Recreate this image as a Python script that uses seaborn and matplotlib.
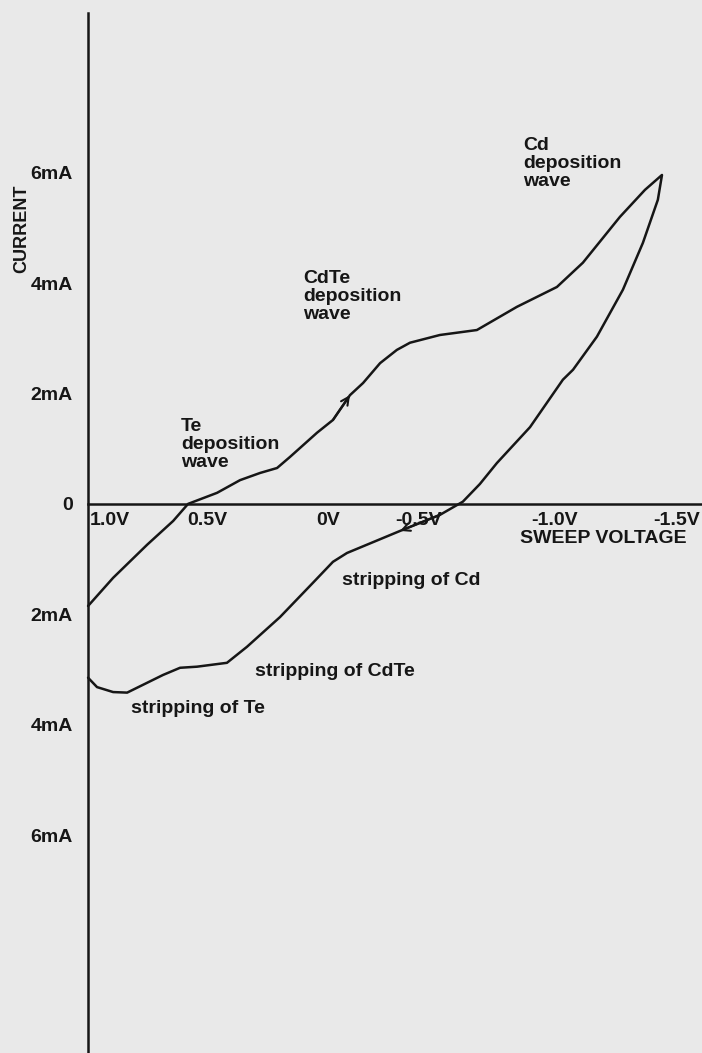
import pandas as pd
import seaborn as sns
import matplotlib.pyplot as plt
from matplotlib.transforms import ScaledTranslation

# cathodic sweep (1.0 V -> -1.5 V), current in mA
fwd_v = [1.0, 0.891, 0.743, 0.630, 0.565, 0.439, 0.339, 0.252, 0.178, 0.122,
         0.004, -0.065, -0.139, -0.196, -0.270, -0.343, -0.400, -0.530, -0.691,
         -0.865, -1.039, -1.152, -1.313, -1.422, -1.496]
fwd_i = [-1.85, -1.34, -0.74, -0.31, 0.0, 0.20, 0.43, 0.56, 0.65, 0.85,
         1.29, 1.52, 1.97, 2.19, 2.55, 2.79, 2.92, 3.06, 3.15,
         3.57, 3.93, 4.37, 5.20, 5.69, 5.96]

# anodic return sweep (-1.5 V -> 1.0 V)
ret_v = [-1.478, -1.413, -1.326, -1.213, -1.109, -1.065, -0.922, -0.778, -0.704,
         -0.630, -0.530, -0.357, -0.126, -0.065, 0.022, 0.165, 0.309, 0.396,
         0.526, 0.600, 0.674, 0.830, 0.891, 0.961, 1.0]
ret_i = [5.51, 4.73, 3.88, 3.03, 2.43, 2.25, 1.39, 0.74, 0.36,
         0.04, -0.20, -0.49, -0.89, -1.05, -1.43, -2.05, -2.59, -2.88,
         -2.95, -2.97, -3.10, -3.42, -3.41, -3.32, -3.15]

volt_ticks = [1.0, 0.5, 0.0, -0.5, -1.0, -1.5]
volt_labels = ["1.0V", "0.5V", "0V", "-0.5V", "-1.0V", "-1.5V"]
curr_ticks = [6, 4, 2, 0, -2, -4, -6]
curr_labels = ["6mA", "4mA", "2mA", "0", "2mA", "4mA", "6mA"]

df = pd.DataFrame({"V": fwd_v + ret_v, "I": fwd_i + ret_i})

sns.set_theme(style="white")
plt.rcParams['font.family'] = ['Liberation Sans', 'DejaVu Sans']
plt.rcParams['font.weight'] = 'bold'

bg = '#e9e9e9'
ink = '#161616'

fig = plt.figure(figsize=(7.02, 10.53), dpi=100, facecolor=bg)
ax = fig.add_axes([0, 0, 1, 1], facecolor=bg)

sns.lineplot(data=df, x="V", y="I", sort=False, estimator=None,
             color=ink, lw=1.8, solid_joinstyle='round', ax=ax)

ax.set_xlim(1.383, -1.670)
ax.set_ylim(-9.95, 9.13)

for s in ['top', 'right']:
    ax.spines[s].set_visible(False)
ax.spines['left'].set_position(('data', 1.0))
ax.spines['bottom'].set_position(('data', 0))
ax.spines['left'].set_bounds(-9.95, 8.9)
ax.spines['bottom'].set_bounds(-1.67, 1.0)
for s in ['left', 'bottom']:
    ax.spines[s].set_color(ink)
    ax.spines[s].set_linewidth(1.8)

ax.set_xticks(volt_ticks, volt_labels)
ax.set_yticks(curr_ticks, curr_labels)
ax.tick_params(axis='x', direction='in', length=4, width=1.2, color=ink,
               pad=6, labelsize=14, labelcolor=ink)
ax.tick_params(axis='y', length=0, pad=11, labelsize=14, labelcolor=ink)

# hand-lettered tick labels sit a little off their ticks
shifts = [22, 4, 10, -14, 7, 14]
for lab, dx in zip(ax.get_xticklabels(), shifts):
    lab.set_transform(lab.get_transform() + ScaledTranslation(dx / 100, 0, fig.dpi_scale_trans))

ax.set_xlabel("SWEEP VOLTAGE", fontsize=14, fontweight='bold', color=ink)
ax.xaxis.set_label_coords(0.859, 0.489)
ax.xaxis.label.set_va('center')
ax.set_ylabel("CURRENT", fontsize=13, fontweight='bold', color=ink)
ax.yaxis.set_label_coords(0.031, 0.783)
ax.yaxis.label.set_va('center')

txt = dict(fontsize=14, fontweight='bold', color=ink, linespacing=1.1)
ax.text(-0.891, 6.65, "Cd\ndeposition\nwave", ha='left', va='top', **txt)
ax.text(0.065, 4.24, "CdTe\ndeposition\nwave", ha='left', va='top', **txt)
ax.text(0.596, 1.56, "Te\ndeposition\nwave", ha='left', va='top', **txt)
ax.text(-0.104, -1.38, "stripping of Cd", ha='left', va='center', **txt)
ax.text(0.274, -3.04, "stripping of CdTe", ha='left', va='center', **txt)
ax.text(0.813, -3.71, "stripping of Te", ha='left', va='center', **txt)

# sweep direction arrows on each branch
arrow = dict(arrowstyle='->', color=ink, lw=1.5, mutation_scale=14, shrinkA=0, shrinkB=0)
k = 12
ax.annotate("", xy=(fwd_v[k], fwd_i[k]), xytext=(fwd_v[k - 1], fwd_i[k - 1]), arrowprops=arrow)
k = 11
ax.annotate("", xy=(ret_v[k], ret_i[k]), xytext=(ret_v[k - 1], ret_i[k - 1]), arrowprops=arrow)

fig.savefig("out.png", dpi=100, facecolor=bg)
